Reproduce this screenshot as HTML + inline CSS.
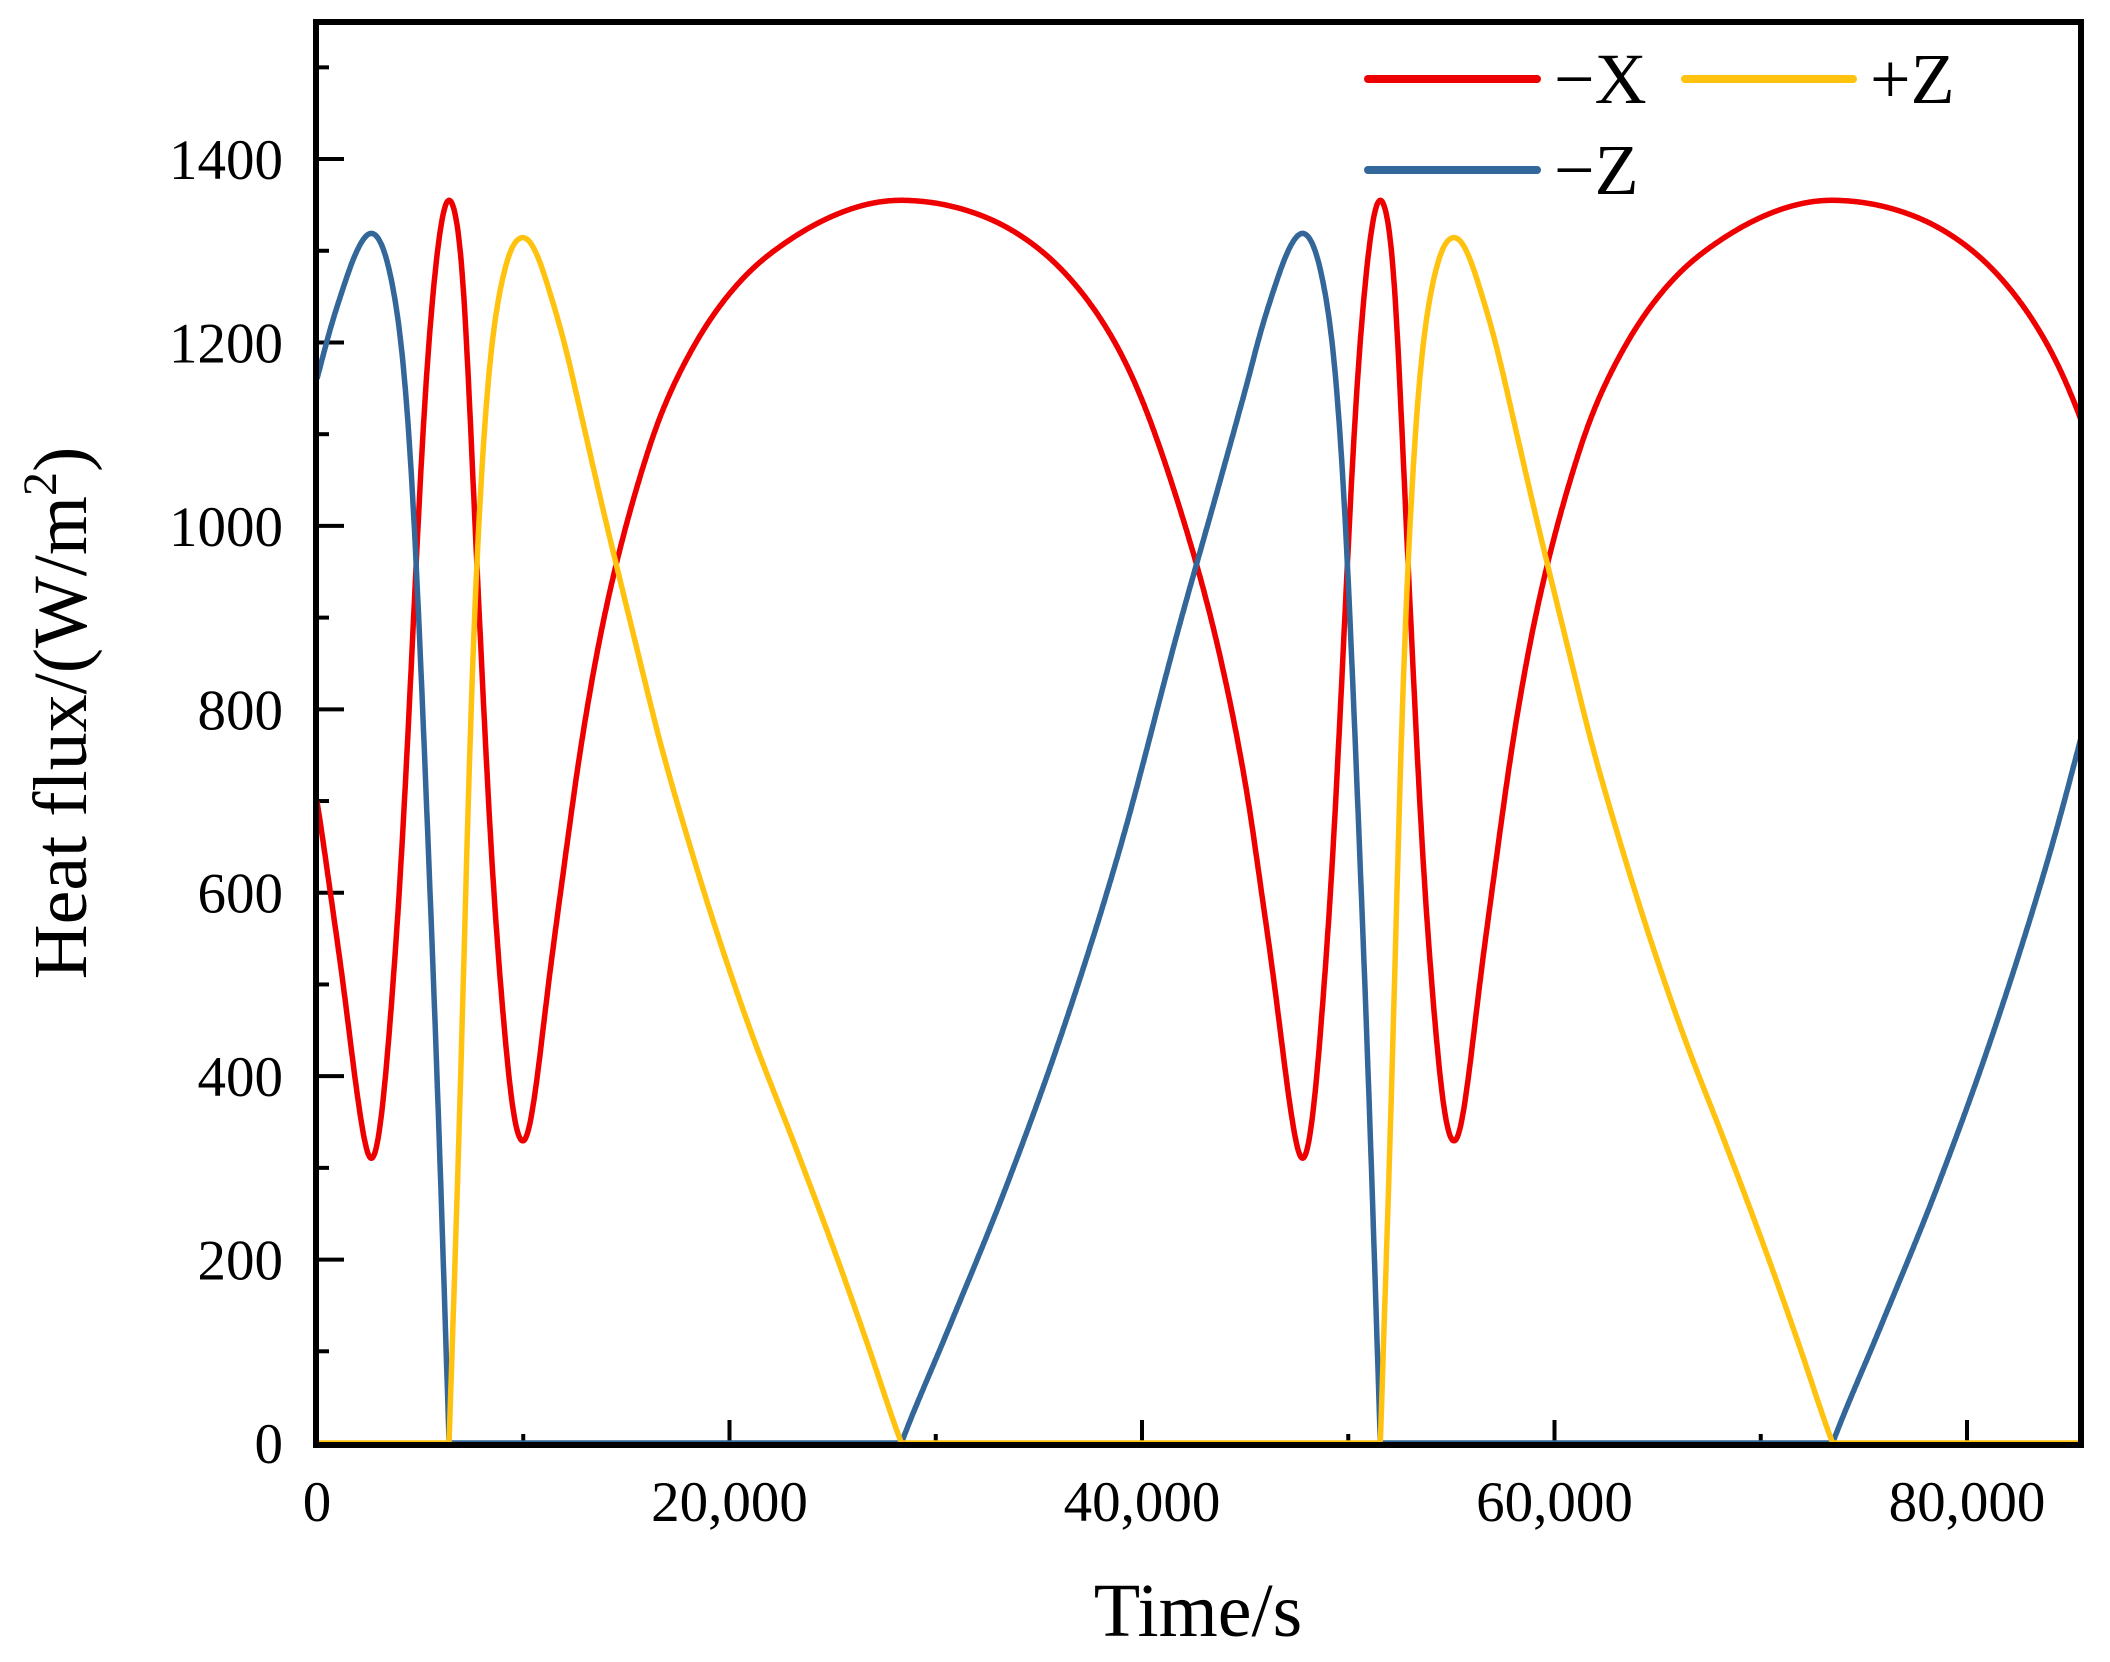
<!DOCTYPE html>
<html><head><meta charset="utf-8"><style>
html,body{margin:0;padding:0;background:#fff;}
svg{display:block;font-family:"Liberation Serif",serif;}
</style></head><body>
<svg id="c" width="2110" height="1662" viewBox="0 0 2110 1662" xmlns="http://www.w3.org/2000/svg">
<defs><clipPath id="cl"><rect x="316" y="22" width="1763" height="1426"/></clipPath></defs>
<g id="ticks" stroke="#000" stroke-width="4"></g>
<g id="labels" font-size="57" fill="#000"></g>
<g clip-path="url(#cl)" fill="none" stroke-width="5.5" stroke-linejoin="round">
<path id="red" stroke="#EE0000"/>
<path id="blue" stroke="#336699"/>
<path id="yel" stroke="#FFC20E"/>
</g>
<rect x="316" y="22" width="1765" height="1423" fill="none" stroke="#000" stroke-width="6"/>
<g stroke-width="8" stroke-linecap="round">
<line x1="1368" y1="79" x2="1537" y2="79" stroke="#EE0000"/>
<line x1="1685" y1="79" x2="1853" y2="79" stroke="#FFC20E"/>
<line x1="1368" y1="170" x2="1537" y2="170" stroke="#336699"/>
</g>
<g font-size="72" fill="#000">
<text x="1554" y="103">−X</text>
<text x="1870" y="103">+Z</text>
<text x="1554" y="194">−Z</text>
</g>
<text x="1198" y="1636" font-size="76" text-anchor="middle">Time/s</text>
<text transform="translate(86,713) rotate(-90)" font-size="76" text-anchor="middle">Heat flux/(W/m<tspan font-size="48" dy="-30">2</tspan><tspan dy="30">)</tspan></text>
</svg>
<script>
(function(){
var NS="http://www.w3.org/2000/svg";
function X(t){return 317+t*0.020625;}
function Y(v){return 1443-v*0.9171;}
var tk=document.getElementById('ticks'),lb=document.getElementById('labels');
function line(x1,y1,x2,y2){var l=document.createElementNS(NS,'line');l.setAttribute('x1',x1);l.setAttribute('y1',y1);l.setAttribute('x2',x2);l.setAttribute('y2',y2);tk.appendChild(l);}
function txt(x,y,s,a){var t=document.createElementNS(NS,'text');t.setAttribute('x',x);t.setAttribute('y',y);t.setAttribute('text-anchor',a);t.textContent=s;lb.appendChild(t);}
for(var v=0;v<=1500;v+=100){var y=Y(v);var maj=(v%200==0);line(316,y,316+(maj?28:13),y);if(maj)txt(283,y+20,String(v),'end');}
for(var t=0;t<=80000;t+=10000){var x=X(t);var maj=(t%20000==0);line(x,1445,x,1445-(maj?25:11));if(maj)txt(x,1521,t==0?'0':(t/1000)+',000','middle');}
var P=45150;
var pts=[[0,1160],[600,1212],[1160,1252],[1700,1288],[2200,1312],[2690,1321],[3200,1305],[3660,1264],[4220,1173],[4770,984],[5330,685],[5880,368],[6400,0],[7000,-414],[7410,-776],[7830,-1002],[8380,-1183],[9220,-1291],[9990,-1316],[10600,-1300],[11160,-1264],[11990,-1200],[12830,-1119],[13940,-1011],[15610,-857],[16720,-757],[18110,-649],[19500,-549],[21160,-441],[23110,-328],[25050,-212],[26720,-106],[28330,0],[30610,124],[33390,278],[36160,450],[38940,649],[41720,884],[43610,1035]];
var ext=[];
for(var k=-1;k<=2;k++){for(var i=0;i<pts.length;i++)ext.push([pts[i][0]+k*P,pts[i][1]]);}
function z(t){
 for(var i=1;i<ext.length-2;i++){if(t>=ext[i][0]&&t<ext[i+1][0]){
  var p0=ext[i-1],p1=ext[i],p2=ext[i+1],p3=ext[i+2];
  var h=p2[0]-p1[0],u=(t-p1[0])/h;
  var m1=(p2[1]-p0[1])/(p2[0]-p0[0])*h,m2=(p3[1]-p1[1])/(p3[0]-p1[0])*h;
  var u2=u*u,u3=u2*u;
  return (2*u3-3*u2+1)*p1[1]+(u3-2*u2+u)*m1+(-2*u3+3*u2)*p2[1]+(u3-u2)*m2;}}
 return 0;}
var dt=20,raw=[],T0=-2000;
for(var t=T0;t<=88000;t+=dt)raw.push(z(t));
function smooth(a,w){var o=[];for(var i=0;i<a.length;i++){var s=0,n=0;for(var j=-w;j<=w;j++){var k=i+j;if(k>=0&&k<a.length){s+=a[k];n++;}}o.push(s/n);}return o;}
var sm=smooth(smooth(raw,12),12);
var r="",b="",yy="",first=true;
for(var i=0;i<sm.length;i+=2){
 var t=T0+i*dt;if(t<0||t>86000)continue;
 var zz=sm[i];if(zz>1354)zz=1354;if(zz<-1354)zz=-1354;
 var rv=Math.sqrt(1355*1355-zz*zz);
 var x=X(t).toFixed(1),c=(first?"M":"L");first=false;
 r+=c+x+","+Y(rv).toFixed(1);
 b+=c+x+","+Y(Math.max(zz,0)).toFixed(1);
 yy+=c+x+","+Y(Math.max(-zz,0)).toFixed(1);
}
document.getElementById('red').setAttribute('d',r);
document.getElementById('blue').setAttribute('d',b);
document.getElementById('yel').setAttribute('d',yy);
})();
</script>
</body></html>
